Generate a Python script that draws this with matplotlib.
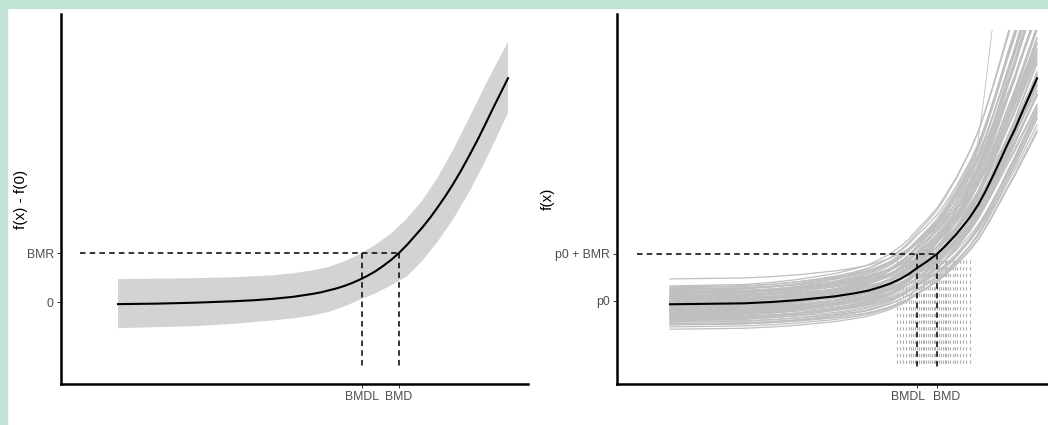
import matplotlib as mpl
import matplotlib.pyplot as plt
from matplotlib.patches import Rectangle
from matplotlib.transforms import offset_copy

mpl.rcParams.update({
    "font.family": ["Liberation Sans", "DejaVu Sans"],
    "lines.scale_dashes": False,
    "axes.spines.top": False,
    "axes.spines.right": False,
})

# left panel: fitted curve f(x) - f(0) with its confidence ribbon
dose_left = [0, 10, 20, 30, 35, 40, 45, 50, 52, 54, 56, 58, 60, 62, 64, 66, 68,
             70, 72, 74, 76, 78, 80, 82, 84, 86, 88, 90, 92, 94, 96, 98, 100]
mean_left = [-0.04, -0.03, -0.01, 0.02, 0.04, 0.07, 0.11, 0.17, 0.20, 0.24,
             0.28, 0.33, 0.39, 0.46, 0.54, 0.63, 0.74, 0.86, 1.0, 1.16, 1.34,
             1.52, 1.72, 1.94, 2.17, 2.42, 2.69, 2.98, 3.28, 3.60, 3.93, 4.25,
             4.57]
upper_dose = [0, 10, 20, 30, 40, 45, 50, 54, 58, 62, 66, 70, 74, 78, 82, 86,
              90, 94, 97, 100]
band_upper = [0.47, 0.48, 0.49, 0.51, 0.55, 0.59, 0.65, 0.72, 0.83, 0.98, 1.17,
              1.40, 1.70, 2.07, 2.55, 3.12, 3.75, 4.40, 4.86, 5.31]
lower_dose = [0, 10, 20, 30, 40, 45, 50, 54, 58, 62, 66, 70, 74, 78, 82, 86,
              90, 94, 97, 100]
band_lower = [-0.53, -0.51, -0.49, -0.44, -0.37, -0.33, -0.27, -0.20, -0.09,
              0.05, 0.18, 0.34, 0.52, 0.84, 1.24, 1.70, 2.24, 2.85, 3.35, 3.86]
bmr_left = 1.0
bmdl_left, bmd_left = 62.6, 72.0

# right panel: fitted curve f(x), sampled curves and sampled BMDs
dose_right = [0, 10, 20, 28, 35, 40, 45, 50, 54, 57, 60, 63, 65, 67.3, 70,
              72.75, 75, 78, 81.7, 84, 86, 88, 89.9, 92, 94, 95.4, 98, 100]
mean_right = [-0.07, -0.06, -0.05, -0.02, 0.02, 0.06, 0.10, 0.16, 0.22, 0.29,
              0.37, 0.48, 0.57, 0.70, 0.84, 1.0, 1.17, 1.42, 1.78, 2.05, 2.34,
              2.66, 2.98, 3.34, 3.66, 3.92, 4.38, 4.74]
# each sampled curve: its value at dose 0 and its growth relative to the fit
draw_shift = [0.47, 0.32, 0.30, 0.28, 0.26, 0.24, 0.22, 0.20, 0.19, 0.17,
              0.15, 0.14, 0.12, 0.10, 0.09, 0.07, 0.05, 0.04, 0.02, 0.0,
              -0.01, -0.03, -0.05, -0.06, -0.08, -0.10, -0.11, -0.13, -0.15,
              -0.16, -0.18, -0.20, -0.21, -0.23, -0.25, -0.26, -0.28, -0.30,
              -0.31, -0.33, -0.35, -0.36, -0.38, -0.40, -0.42, -0.45, -0.48,
              -0.51, -0.55, -0.60,
              0.25, 0.18, 0.11, 0.06, 0.01, -0.04, -0.09, -0.14, -0.19, -0.24,
              -0.29, -0.34, -0.39, -0.44, -0.50, 0.20, 0.0, -0.20, -0.35, -0.50]
draw_gain = [1.0, 1.55, 1.2, 1.45, 0.95, 1.3, 1.6, 1.1, 1.38, 0.92, 1.25, 1.5,
             1.05, 1.33, 0.98, 1.42, 1.15, 0.9, 1.28, 1.52, 1.08, 1.36, 0.96,
             1.22, 1.47, 1.02, 1.3, 1.12, 0.94, 1.4, 1.18, 1.26, 1.0, 1.44, 1.1,
             0.97, 1.34, 1.2, 1.05, 1.5, 0.99, 1.24, 1.14, 0.93, 1.3, 1.06, 0.95,
             1.12, 0.92, 0.96,
             1.35, 1.08, 1.48, 0.9, 1.2, 1.56, 0.88, 1.32, 1.02, 1.16, 1.42, 0.9,
             1.28, 0.87, 0.86, 0.89, 0.87, 0.86, 0.88, 0.85]
outlier_dose = [0, 20, 40, 55, 65, 72, 78, 81, 83.1, 85.5, 87.7, 89]
outlier_y = [0.1, 0.12, 0.2, 0.4, 0.75, 1.15, 1.8, 2.3, 2.94, 4.3, 5.72, 6.6]
bmd_draws = [61.9, 62.8, 63.6, 64.3, 65.0, 65.6, 66.2, 66.8, 67.3, 67.8, 68.3,
             68.8, 69.3, 69.8, 70.3, 70.8, 71.3, 71.8, 72.3, 72.8, 73.3, 73.8,
             74.3, 74.8, 75.3, 75.8, 76.4, 77.0, 77.6, 78.3, 79.0, 79.8, 80.6,
             81.7]
bmr_right = 1.0
bmdl_right, bmd_right = 67.3, 72.75

W, H = 1048, 425
fig = plt.figure(figsize=(W / 100, H / 100), dpi=100)
fig.patch.set_facecolor("white")
mint = "#c2e4d5"
fig.patches.append(Rectangle((0, 1 - 8 / H), 1, 8 / H, transform=fig.transFigure,
                             color=mint, zorder=-1))
fig.patches.append(Rectangle((0, 0), 7 / W, 1, transform=fig.transFigure,
                             color=mint, zorder=-1))


def px_axes(x0, x1, y0, y1):
    return fig.add_axes([x0 / W, (H - y1) / H, (x1 - x0) / W, (y1 - y0) / H])


def style(ax):
    for s in ("left", "bottom"):
        ax.spines[s].set_linewidth(1.8)
        ax.spines[s].set_color("black")
    ax.tick_params(length=2.8, width=0.7, color="#333333", labelcolor="#4d4d4d",
                   labelsize=8.8, pad=2.5)
    ax.set_facecolor("none")


dash = (0, (4, 3))

ax1 = px_axes(61, 528, 14, 384)
style(ax1)
ax1.fill(upper_dose + lower_dose[::-1], band_upper + band_lower[::-1],
         color="#d3d3d3", lw=0, zorder=1)
ax1.plot(dose_left, mean_left, color="black", lw=1.5, zorder=3)
ax1.plot([-9.7, bmd_left], [bmr_left, bmr_left], color="black", lw=1.1, ls=dash, zorder=4)
for xv in (bmdl_left, bmd_left):
    ax1.plot([xv, xv], [bmr_left, -1.37], color="black", lw=1.1, ls=dash, zorder=4)
ax1.set_xlim(-14.62, 105.13)
ax1.set_ylim(-1.67, 5.88)
ax1.set_xticks([bmdl_left, bmd_left], ["BMDL", "BMD"])
ax1.set_yticks([0, bmr_left], ["0", "BMR"])
ax1.set_ylabel("f(x) - f(0)", fontsize=11, color="black")
ax1.yaxis.set_label_coords(-0.0707, 0.5)

ax2 = px_axes(617, 1084, 14, 384)
style(ax2)
clip = Rectangle((-20, -5), 200, 10.77, transform=ax2.transData)
for xv in bmd_draws:
    ax2.plot([xv, xv], [0.87, -1.38], color="#b0b0b0", lw=0.8,
             ls=(0, (2.4, 2.4)), zorder=1)
base = mean_right[0]
for s, g in zip(draw_shift, draw_gain):
    yk = [s + g * (m - base) for m in mean_right]
    ln, = ax2.plot(dose_right, yk, color="#bfbfbf", lw=0.9, zorder=2)
    ln.set_clip_path(clip)
ln, = ax2.plot(outlier_dose, outlier_y, color="#bfbfbf", lw=0.6, zorder=2)
ln.set_clip_path(clip)
ax2.plot(dose_right, mean_right, color="black", lw=1.5, zorder=3)
ax2.plot([-9.0, bmd_right], [bmr_right, bmr_right], color="black", lw=1.1, ls=dash, zorder=4)
for xv in (bmdl_right, bmd_right):
    ax2.plot([xv, xv], [bmr_right, -1.45], color="black", lw=1.1, ls=dash, zorder=4)
ax2.set_xlim(-14.44, 112.8)
ax2.set_ylim(-1.766, 6.106)
ax2.set_xticks([bmdl_right, bmd_right], ["BMDL", "BMD"])
ax2.set_yticks([0, bmr_right], ["p0", "p0 + BMR"])
ax2.set_ylabel("f(x)", fontsize=11, color="black")
ax2.yaxis.set_label_coords(-0.1328, 0.5)

# the two close tick labels are pushed apart so they do not collide
lab_l, lab_r = ax2.get_xticklabels()
lab_l.set_ha("right")
lab_l.set_transform(offset_copy(lab_l.get_transform(), fig=fig, x=8, units="dots"))
lab_r.set_ha("left")
lab_r.set_transform(offset_copy(lab_r.get_transform(), fig=fig, x=-4, units="dots"))

fig.savefig("out.png", dpi=100)
